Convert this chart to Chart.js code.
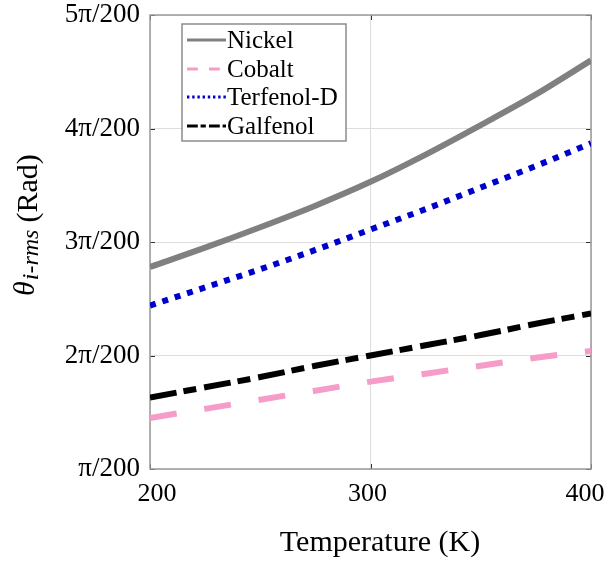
<!DOCTYPE html>
<html>
<head>
<meta charset="utf-8">
<script src="https://cdn.jsdelivr.net/npm/chart.js@4/dist/chart.umd.min.js"></script>
<style>
  html, body { margin: 0; padding: 0; background: #fff; }
  #box { width: 606px; height: 561px; }
</style>
</head>
<body>
<div id="box"><canvas id="grafico"></canvas></div>
<script>
// temperatura (K) e theta em unidades de pi/200
var temperaturas = [200, 225, 250, 275, 300, 325, 350, 375, 400];
var nickel   = [2.78, 2.95, 3.13, 3.32, 3.53, 3.77, 4.03, 4.30, 4.60];
var cobalt   = [1.45, 1.53, 1.61, 1.69, 1.77, 1.84, 1.91, 1.98, 2.04];
var terfenol = [2.44, 2.60, 2.76, 2.93, 3.11, 3.29, 3.48, 3.67, 3.87];
var galfenol = [1.63, 1.72, 1.81, 1.91, 2.00, 2.09, 2.18, 2.28, 2.37];
var ticksY = [1, 2, 3, 4, 5];
var ticksX = [200, 300, 400];

var fonte = "'Liberation Serif', 'Times New Roman', serif";

function pontos(valores) {
  var p = [];
  for (var i = 0; i < temperaturas.length; i++) {
    p.push({ x: temperaturas[i], y: valores[i] });
  }
  return p;
}

function serie(nome, valores, cor, tracejado) {
  return {
    label: nome,
    data: pontos(valores),
    borderColor: cor,
    backgroundColor: cor,
    borderWidth: 6,
    borderDash: tracejado,
    borderCapStyle: 'butt',
    pointRadius: 0,
    tension: 0.4,
    cubicInterpolationMode: 'monotone'
  };
}

// caixa, ticks internos, legenda e titulos dos eixos
var extras = {
  id: 'extras',
  beforeDatasetsDraw: function (chart) {
    var ctx = chart.ctx;
    var a = chart.chartArea;
    var sx = chart.scales.x, sy = chart.scales.y;
    ctx.save();
    ctx.strokeStyle = '#333';
    ctx.lineWidth = 1;
    ticksY.forEach(function (v) {
      var y = Math.round(sy.getPixelForValue(v)) + 0.5;
      ctx.beginPath();
      ctx.moveTo(a.left, y); ctx.lineTo(a.left + 5, y);
      ctx.moveTo(a.right, y); ctx.lineTo(a.right - 5, y);
      ctx.stroke();
    });
    ticksX.forEach(function (v) {
      var x = Math.round(sx.getPixelForValue(v)) + 0.5;
      ctx.beginPath();
      ctx.moveTo(x, a.bottom); ctx.lineTo(x, a.bottom - 5);
      ctx.moveTo(x, a.top); ctx.lineTo(x, a.top + 5);
      ctx.stroke();
    });
    ctx.strokeStyle = '#9a9a9a';
    ctx.lineWidth = 1.5;
    ctx.strokeRect(a.left, a.top, a.right - a.left, a.bottom - a.top);

    // rotulos do eixo x (ajustados para caber na janela)
    var desloc = [7, -3, -6];
    ctx.fillStyle = '#000';
    ctx.font = '26px ' + fonte;
    ctx.textAlign = 'center';
    ctx.textBaseline = 'middle';
    ticksX.forEach(function (v, i) {
      ctx.fillText(String(v), sx.getPixelForValue(v) + desloc[i], a.bottom + 25);
    });
    ctx.restore();
  },
  afterDatasetsDraw: function (chart) {
    var ctx = chart.ctx;
    ctx.save();

    // legenda
    ctx.fillStyle = '#fff';
    ctx.fillRect(182, 24, 164, 117);
    ctx.strokeStyle = '#8c8c8c';
    ctx.lineWidth = 1.5;
    ctx.strokeRect(182, 24, 164, 117);
    var linhas = [40, 69, 97, 126];
    chart.data.datasets.forEach(function (ds, i) {
      var y = linhas[i];
      ctx.strokeStyle = ds.borderColor;
      ctx.lineWidth = 3;
      ctx.lineCap = 'butt';
      ctx.setLineDash(ds.borderDash.map(function (d) { return d * 0.4; }));
      ctx.beginPath();
      ctx.moveTo(187, y);
      ctx.lineTo(226, y);
      ctx.stroke();
      ctx.setLineDash([]);
      ctx.fillStyle = '#000';
      ctx.font = '25px ' + fonte;
      ctx.textBaseline = 'middle';
      ctx.textAlign = 'left';
      ctx.fillText(ds.label, 227, y + 1);
    });

    // titulo eixo x
    ctx.fillStyle = '#000';
    ctx.font = '30px ' + fonte;
    ctx.textAlign = 'center';
    ctx.textBaseline = 'middle';
    ctx.fillText('Temperature (K)', 380, 543);

    // titulo eixo y: theta_{i-rms} (Rad)
    ctx.rotate(-Math.PI / 2);
    ctx.textAlign = 'left';
    ctx.textBaseline = 'alphabetic';
    var pos = -296;
    ctx.font = 'italic 30px ' + fonte;
    ctx.fillText('\u03b8', pos, 34);
    pos += ctx.measureText('\u03b8').width + 1;
    ctx.font = 'italic 24px ' + fonte;
    ctx.fillText('i-rms', pos, 38);
    pos += ctx.measureText('i-rms').width + 7;
    ctx.font = '30px ' + fonte;
    ctx.fillText('(Rad)', pos, 37);
    ctx.restore();
  }
};

var ctx = document.getElementById('grafico').getContext('2d');

var grafico = new Chart(ctx, {
  type: 'line',
  data: {
    datasets: [
      serie('Nickel', nickel, '#808080', []),
      serie('Cobalt', cobalt, '#f59dc8', [27, 28]),
      serie('Terfenol-D', terfenol, '#0000cc', [6, 7]),
      serie('Galfenol', galfenol, '#000000', [27, 7, 13, 8])
    ]
  },
  options: {
    responsive: true,
    maintainAspectRatio: false,
    animation: false,
    layout: { padding: { left: 0, top: 15, right: 15, bottom: 0 } },
    plugins: {
      legend: { display: false },
      tooltip: { enabled: false }
    },
    scales: {
      x: {
        type: 'linear',
        min: 200,
        max: 400,
        afterBuildTicks: function (s) { s.ticks = ticksX.map(function (v) { return { value: v }; }); },
        afterFit: function (s) {
          s.height = 92;
          s.paddingLeft = 0; s.paddingRight = 0;
        },
        grid: { color: '#dedede', drawTicks: false },
        border: { display: false },
        ticks: { display: false }
      },
      y: {
        min: 1,
        max: 5,
        afterBuildTicks: function (s) { s.ticks = ticksY.map(function (v) { return { value: v }; }); },
        afterFit: function (s) {
          s.width = 150;
          s.paddingTop = 0; s.paddingBottom = 0;
        },
        grid: { color: '#dedede', drawTicks: false },
        border: { display: false },
        ticks: {
          color: '#000',
          padding: 10,
          font: { family: fonte, size: 27 },
          callback: function (v) { return (v === 1 ? '' : v) + '\u03c0/200'; }
        }
      }
    }
  },
  plugins: [extras]
});
</script>
</body>
</html>
